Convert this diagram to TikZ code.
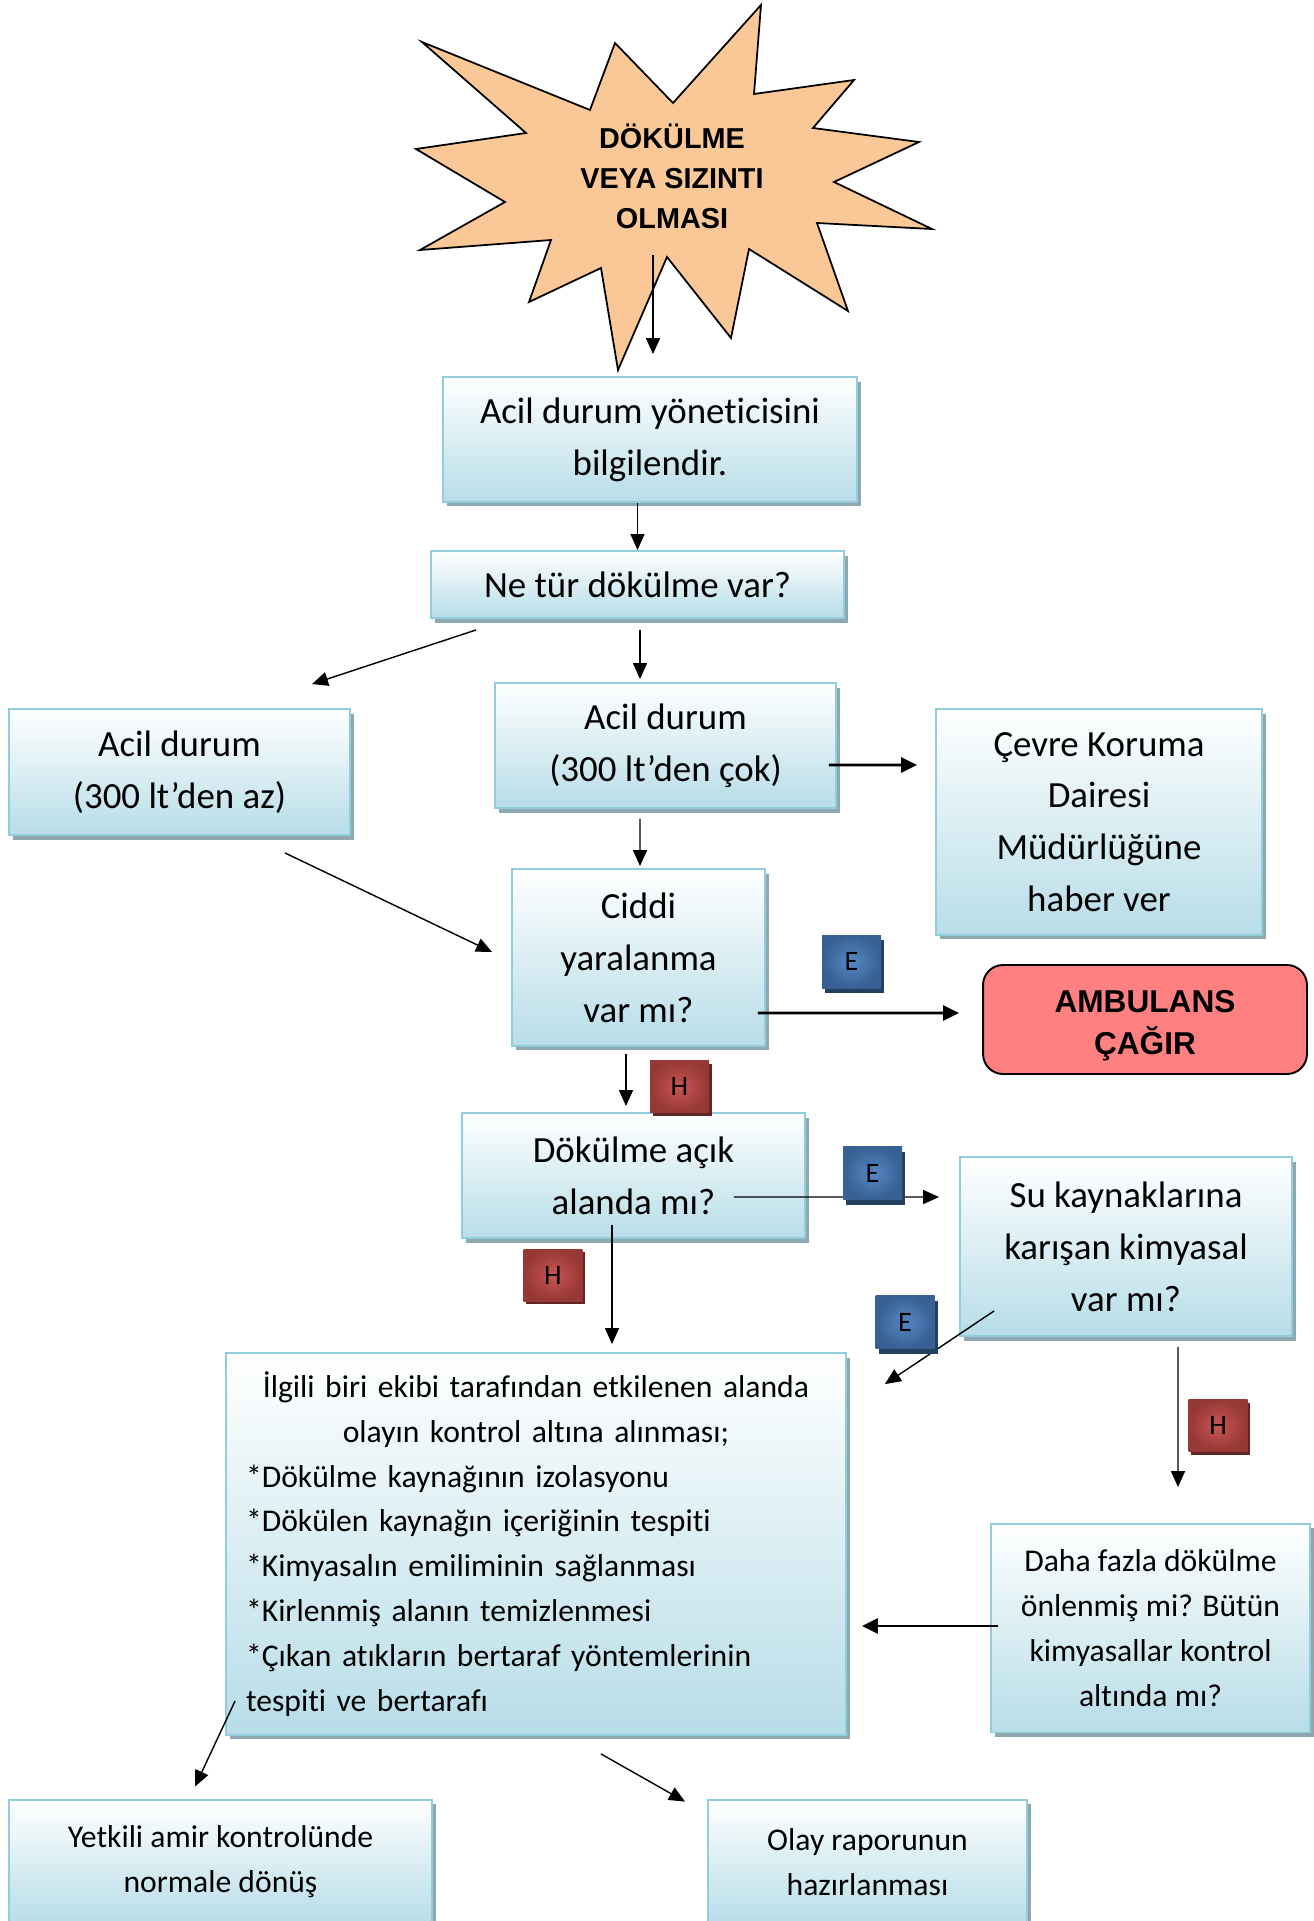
\documentclass[tikz,border=0pt]{standalone}
\usepackage{fontspec}
\setmainfont{Carlito}[Ligatures=NoCommon]
\newfontfamily\arialfont{Liberation Sans}
\usepackage{xcolor}
\usetikzlibrary{calc, positioning, shadows, arrows.meta}

\definecolor{boxblue}{RGB}{183,221,232}
\definecolor{boxedge}{RGB}{146,205,220}
\definecolor{boxshade}{RGB}{142,168,178}
\definecolor{starfill}{RGB}{250,200,150}
\definecolor{ambfill}{RGB}{255,128,128}
\definecolor{eblue}{RGB}{84,136,198}
\definecolor{eblueedge}{RGB}{56,96,146}
\definecolor{eshade}{RGB}{36,64,97}
\definecolor{hred}{RGB}{200,86,82}
\definecolor{hrededge}{RGB}{150,56,53}
\definecolor{hshade}{RGB}{99,37,35}

\newcommand\bigtext{\fontsize{21}{29.5}\selectfont}
\newcommand\smalltext{\fontsize{18}{25.5}\selectfont}

\begin{document}
\begin{tikzpicture}[x=0.02cm, y=-0.02cm,
    box/.style={draw=boxedge, line width=1.1pt, top color=white, bottom color=boxblue,
      align=center, inner sep=0pt, font=\bigtext,
      drop shadow={shadow xshift=0.08cm, shadow yshift=-0.09cm, fill=boxshade, opacity=1}},
    alarm/.style={draw=black, line width=1.1pt, fill=ambfill, rounded corners=0.4cm,
      align=center, inner sep=0pt, font={\arialfont\bfseries\fontsize{18}{23.8}\selectfont}},
    evet/.style={inner color=eblue, outer color=eblueedge, minimum width=1.18cm, minimum height=1.06cm,
      inner sep=0pt, font=\fontsize{16}{18}\selectfont,
      drop shadow={shadow xshift=0.06cm, shadow yshift=-0.1cm, fill=eshade, opacity=1}},
    hayir/.style={inner color=hred, outer color=hrededge, minimum width=1.18cm, minimum height=1.04cm,
      inner sep=0pt, font=\fontsize{16}{18}\selectfont,
      drop shadow={shadow xshift=0.05cm, shadow yshift=-0.06cm, fill=hshade, opacity=1}},
    arr/.style={line width=0.8pt, -{Triangle[length=0.32cm, width=0.28cm]}},
    thickarr/.style={line width=1.5pt, -{Triangle[length=0.32cm, width=0.3cm]}}]
  \useasboundingbox (0,0) rectangle (1314,1921);

  % the burst
  \draw[line width=1pt, fill=starfill] (761,5) -- (754,94) -- (854,80) -- (813,128) -- (919,142)
    -- (834,182) -- (932,229) -- (817,223) -- (848,311) -- (749,249) -- (731,338) -- (667,257)
    -- (618,370) -- (601,268) -- (529,302) -- (551,240) -- (420,250) -- (505,202) -- (416,149)
    -- (526,133) -- (422,42) -- (590,110) -- (615,43) -- (673,103) -- cycle;
  \node[align=center, font={\arialfont\bfseries\fontsize{16.4}{22.7}\selectfont}] (spill) at (672,176)
    {DÖKÜLME\\VEYA SIZINTI\\OLMASI};
  \coordinate (burst) at (653,255);

  \node[box, minimum width=8.28cm, minimum height=2.5cm] (inform) at (650,439.5) {Acil durum yöneticisini\\bilgilendir.};
  \node[box, minimum width=8.26cm, minimum height=1.34cm] (kind) at (637.5,584.5) {Ne tür dökülme var?};
  \node[box, minimum width=6.82cm, minimum height=2.52cm] (small) at (179.5,772) {Acil durum\\(300 lt’den az)};
  \node[box, minimum width=6.82cm, minimum height=2.5cm] (large) at (665.5,745.5) {Acil durum\\(300 lt’den çok)};
  \node[box, minimum width=6.52cm, minimum height=4.52cm] (cevre) at (1099,822) {Çevre Koruma\\Dairesi\\Müdürlüğüne\\haber ver};
  \node[box, minimum width=5.06cm, minimum height=3.54cm] (injury) at (638.5,957.5) {Ciddi\\yaralanma\\var mı?};
  \node[alarm, minimum width=6.48cm, minimum height=2.18cm] (ambulance) at (1145,1019.5)
    {\raisebox{-7.6pt}[0pt][0pt]{\begin{tabular}{@{}c@{}}AMBULANS\\ÇAĞIR\end{tabular}}};
  \node[box, minimum width=6.86cm, minimum height=2.5cm] (openq) at (633.5,1175.5) {Dökülme açık\\alanda mı?};
  \node[box, minimum width=6.64cm, minimum height=3.58cm] (water) at (1126,1246.5) {Su kaynaklarına\\karışan kimyasal\\var mı?};
  \node[box, minimum width=12.4cm, minimum height=7.64cm, text width=11.6cm, align=left, font=\smalltext] (procedures) at (536,1544)
    {\centering İlgili biri ekibi tarafından etkilenen alanda\\olayın kontrol altına alınması;\par
     \raggedright *Dökülme kaynağının izolasyonu\\{}*Dökülen kaynağın içeriğinin tespiti\\{}*Kimyasalın emiliminin sağlanması\\{}*Kirlenmiş alanın temizlenmesi\\{}*Çıkan atıkların bertaraf yöntemlerinin\\tespiti ve bertarafı\par};
  \node[box, minimum width=6.38cm, minimum height=4.18cm, font=\smalltext] (further) at (1150.5,1628)
    {Daha fazla dökülme\\önlenmiş mi? Bütün\\kimyasallar kontrol\\altında mı?};
  \node[box, minimum width=8.46cm, minimum height=2.5cm, font=\smalltext] (normal) at (220.5,1862) {Yetkili amir kontrolünde\\normale dönüş};
  \node[box, minimum width=6.38cm, minimum height=2.5cm, font=\smalltext] (report) at (867.5,1862) {Olay raporunun\\hazırlanması};

  \draw[arr] (burst) -- ($(inform.north)+(3,-22)$);
  \draw[arr] (inform.south -| kind.north) -- (kind.north);
  \draw[arr] ($(kind.south)+(-161.5,11)$) -- ($(small.north)+(132.5,-24)$);
  \draw[arr] ($(kind.south)+(2.5,11)$) -- ($(kind.south |- large.north)+(2.5,-3)$);
  \draw[thickarr] ($(large.east)+(-8,19.5)$) -- ($(cevre.west)+(-18,-57)$);
  \draw[arr] ($(large.south)+(-25.5,10)$) -- ($(injury.north)+(1.5,-2)$);
  \draw[arr] ($(small.south)+(105.5,17)$) -- ($(injury.west)+(-19,-5.5)$);
  \draw[thickarr] ($(injury.east)+(-8,55.5)$) -- ($(ambulance.west)+(-23,-6.5)$);
  \draw[arr] ($(injury.south)+(-12.5,7)$) -- ($(openq.north)+(-7.5,-6)$);
  \draw[arr] ($(openq.east)+(-72,21.5)$) -- ($(water.west)+(-20,-49.5)$);
  \draw[arr] ($(openq.south)+(-21.5,-14)$) -- ($(procedures.north)+(76,-8)$);
  \draw[arr] ($(water.south west)+(35,-26)$) -- ($(procedures.north east)+(38,32)$);
  \draw[arr] ($(water.south)+(52,10)$) -- ($(further.north)+(27.5,-35.5)$);
  \draw[thickarr] ($(further.west)+(8,-2)$) -- ($(procedures.east)+(15,82)$);
  \draw[arr] ($(procedures.south west)+(10,-35)$) -- ($(normal.north)+(-25.5,-12)$);
  \draw[arr] ($(procedures.south)+(65,18)$) -- ($(report.north)+(-182.5,3)$);

  \node[evet] (e1) at (851.5,961.5) {E};
  \node[hayir] (h1) at (679.5,1086.5) {H};
  \node[evet] (e2) at (872.5,1173) {E};
  \node[hayir] (h2) at (553,1275) {H};
  \node[evet] (e3) at (905,1322) {E};
  \node[hayir] (h3) at (1218,1425.5) {H};
\end{tikzpicture}
\end{document}
